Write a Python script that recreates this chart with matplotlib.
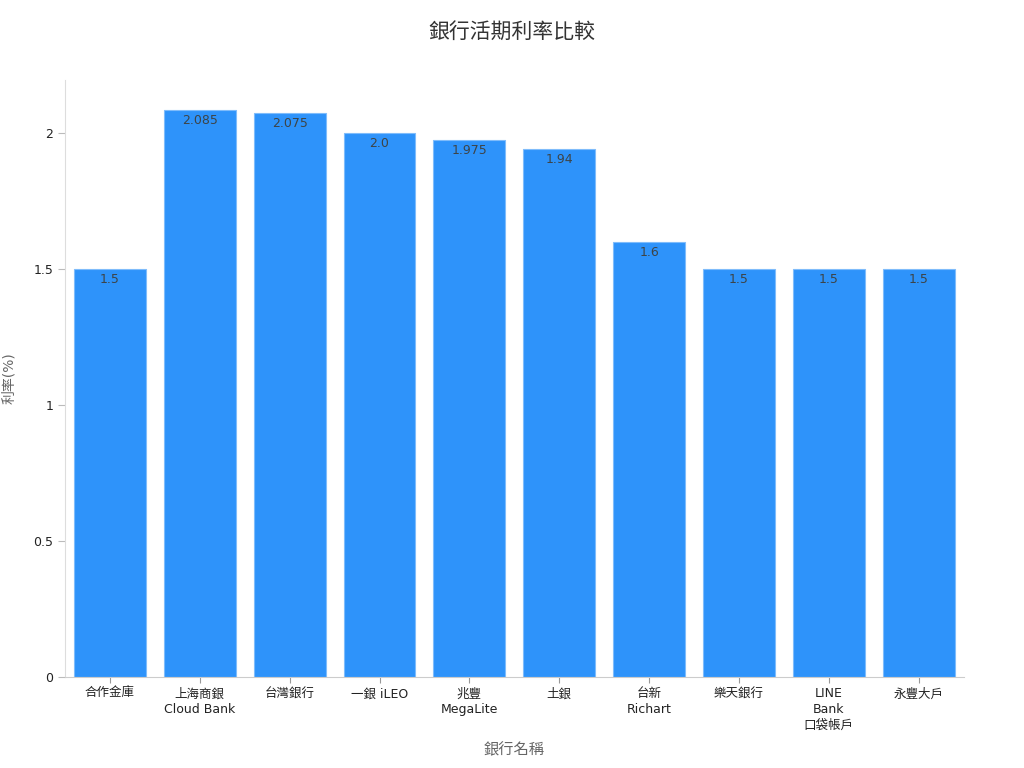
import matplotlib
matplotlib.use('Agg')
import matplotlib.pyplot as plt
from matplotlib.ticker import FuncFormatter

plt.rcParams['font.family'] = ['DejaVu Sans', 'Noto Sans CJK TC']

banks = ['合作金庫', '上海商銀\nCloud Bank', '台灣銀行', '一銀 iLEO', '兆豐\nMegaLite',
         '土銀', '台新\nRichart', '樂天銀行', 'LINE\nBank\n口袋帳戶', '永豐大戶']
rates = [1.5, 2.085, 2.075, 2.0, 1.975, 1.94, 1.6, 1.5, 1.5, 1.5]
rate_labels = ['1.5', '2.085', '2.075', '2.0', '1.975', '1.94', '1.6', '1.5', '1.5', '1.5']
yticks = [0, 0.5, 1, 1.5, 2]

def main():
    fig = plt.figure(figsize=(10.24, 7.68), dpi=100)
    ax = fig.add_axes([0.0635, 0.1185, 0.8775, 0.7775])

    x = range(len(banks))
    bars = ax.bar(x, rates, width=0.8, color='#2E93FA', edgecolor='#7fbcfb', linewidth=0.8)
    for b, lab in zip(bars, rate_labels):
        ax.text(b.get_x() + b.get_width() / 2, b.get_height() - 0.015, lab,
                ha='center', va='top', fontsize=9, color='#3d4447')

    ax.set_xlim(-0.5, len(banks) - 0.5)
    ax.set_ylim(0, 2.195)
    ax.set_xticks(list(x))
    ax.set_xticklabels(banks, fontsize=9, color='#222222', linespacing=1.25)
    ax.set_yticks(yticks)
    ax.yaxis.set_major_formatter(FuncFormatter(lambda v, p: '%g' % v))
    ax.tick_params(axis='y', labelsize=9, colors='#222222', length=5, color='#bbbbbb')
    ax.tick_params(axis='x', length=4, color='#999999')

    for s in ['top', 'right']:
        ax.spines[s].set_visible(False)
    ax.spines['left'].set_color('#dddddd')
    ax.spines['bottom'].set_color('#cccccc')

    ax.set_xlabel('銀行名稱', fontsize=11, color='#666666', labelpad=8)
    ax.set_ylabel('利率(%)', fontsize=10, color='#666666', labelpad=12)
    fig.suptitle('銀行活期利率比較', fontsize=15, color='#333333', y=0.972)

    fig.savefig('out.png', dpi=100)

if __name__ == "__main__":
    main()
